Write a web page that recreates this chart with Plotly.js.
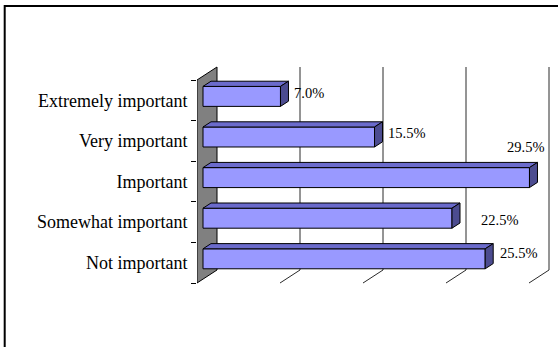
<!DOCTYPE html>
<html>
<head>
<meta charset="utf-8">
<script src="https://cdn.plot.ly/plotly-3.0.1.min.js"></script>
<style>
  html, body { margin: 0; padding: 0; background: #ffffff; }
  #chart { width: 558px; height: 347px; }
</style>
</head>
<body>
<div id="chart"></div>
<script>
// Survey answers, listed from the top row to the bottom row
const categories = ['Extremely important', 'Very important', 'Important', 'Somewhat important', 'Not important'];
const shares = [7.0, 15.5, 29.5, 22.5, 25.5];
const shareLabels = ['7.0%', '15.5%', '29.5%', '22.5%', '25.5%'];

// Value axis: gridlines every 7.5 points up to 30
const gridStep = 7.5;
const gridCount = 4;

// Pixel nudges for each value label [dx, dy]
const labelNudge = [[11.5, 3.5], [11.5, 4], [-24, 30.5], [27, -2], [13, 5.5]];

// ---- geometry of the oblique 3-D box ----
const W = 558, H = 347;
const originPx = [197, 283];          // front-bottom corner of the plot box
const pxPerUnitX = 83 / gridStep;     // pixels per percentage point
const pxPerUnitY = 40.6;              // pixels per category slot
const depthX = 20 / pxPerUnitX;       // depth offset of the back wall (data units)
const depthY = 13 / pxPerUnitY;
const nCat = categories.length;
const barFront = 0.3, barBack = 0.7;  // bar position inside the depth
const barHalf = 0.246;                // half bar thickness (category units)

const faceFront = '#9999ff', faceTop = '#6b6bcc', faceSide = '#4c4c90';
const serif = 'Liberation Serif, Times New Roman, serif';

const shapes = [];

// gray side wall
shapes.push({
  type: 'path', xref: 'x', yref: 'y', layer: 'below',
  path: `M 0 0 L 0 ${nCat} L ${depthX} ${nCat + depthY} L ${depthX} ${depthY} Z`,
  fillcolor: '#808080', line: { color: '#000', width: 1 }
});

// back wall gridlines and floor guide lines
for (let k = 1; k <= gridCount; k++) {
  shapes.push({
    type: 'line', xref: 'x', yref: 'y', layer: 'below',
    x0: depthX + k * gridStep, x1: depthX + k * gridStep, y0: depthY, y1: nCat + depthY,
    line: { color: '#2a2a2a', width: 1 }
  });
  shapes.push({
    type: 'line', xref: 'x', yref: 'y', layer: 'below',
    x0: k * gridStep, x1: depthX + k * gridStep, y0: 0, y1: depthY,
    line: { color: '#2a2a2a', width: 1 }
  });
}

// outer frame of the chart area
shapes.push({
  type: 'rect', xref: 'paper', yref: 'paper',
  x0: 4.7 / W, x1: 1.2, y0: -0.2, y1: 1 - 6 / H,
  line: { color: '#000', width: 2 }, fillcolor: 'rgba(0,0,0,0)', layer: 'above'
});

const traces = [];

// bar centres (front face), bottom category sits in slot 0
const centres = categories.map((c, i) => (nCat - 1 - i) + 0.5 + barFront * depthY);
const x0 = barFront * depthX;
const ddx = (barBack - barFront) * depthX;
const ddy = (barBack - barFront) * depthY;

// front faces as real horizontal bars
traces.push({
  type: 'bar', orientation: 'h',
  x: shares, y: centres, base: x0, width: 2 * barHalf,
  marker: { color: faceFront, line: { color: '#000', width: 1 } },
  hoverinfo: 'skip', showlegend: false
});

// top and side faces of each bar
const tx = [], ty = [], sx = [], sy = [];
shares.forEach((v, i) => {
  const yt = centres[i] + barHalf, yb = centres[i] - barHalf;
  tx.push(x0, x0 + v, x0 + v + ddx, x0 + ddx, x0, null);
  ty.push(yt, yt, yt + ddy, yt + ddy, yt, null);
  sx.push(x0 + v, x0 + v, x0 + v + ddx, x0 + v + ddx, x0 + v, null);
  sy.push(yb, yt, yt + ddy, yb + ddy, yb, null);
});
traces.push({
  type: 'scatter', mode: 'lines', fill: 'toself', fillcolor: faceTop,
  x: tx, y: ty, line: { color: '#000', width: 1 }, hoverinfo: 'skip', showlegend: false
});
traces.push({
  type: 'scatter', mode: 'lines', fill: 'toself', fillcolor: faceSide,
  x: sx, y: sy, line: { color: '#000', width: 1 }, hoverinfo: 'skip', showlegend: false
});

// value labels
const annotations = shares.map((v, i) => ({
  x: x0 + v, y: centres[i], xref: 'x', yref: 'y',
  text: shareLabels[i], showarrow: false,
  xanchor: 'left', yanchor: 'middle',
  xshift: labelNudge[i][0], yshift: labelNudge[i][1],
  font: { family: serif, size: 14.5, color: '#000' }
}));

const boundaryTicks = [];
for (let k = 0; k <= nCat; k++) boundaryTicks.push(k);
const slotCentres = categories.map((c, i) => (nCat - 1 - i) + 0.5);

const yRange = [-(H - originPx[1]) / pxPerUnitY, originPx[1] / pxPerUnitY];

// keep the second y axis populated so its labels render
traces.push({
  type: 'scatter', mode: 'markers', x: slotCentres.map(() => 0), y: slotCentres,
  yaxis: 'y2', marker: { opacity: 0 }, hoverinfo: 'skip', showlegend: false
});

const layout = {
  width: W, height: H,
  margin: { l: 0, r: 0, t: 0, b: 0, pad: 0 },
  paper_bgcolor: '#ffffff', plot_bgcolor: 'rgba(0,0,0,0)',
  showlegend: false, bargap: 0,
  xaxis: {
    domain: [originPx[0] / W, 1],
    range: [0, (W - originPx[0]) / pxPerUnitX],
    showgrid: false, zeroline: false, showline: false, showticklabels: false, ticks: ''
  },
  yaxis: {
    domain: [0, 1], range: yRange, anchor: 'x',
    showgrid: false, zeroline: false, showline: false,
    tickmode: 'array', tickvals: boundaryTicks, ticktext: boundaryTicks.map(() => ''),
    ticks: 'outside', ticklen: 5, tickwidth: 1, tickcolor: '#000'
  },
  yaxis2: {
    overlaying: 'y', anchor: 'x', side: 'left', range: yRange,
    showgrid: false, zeroline: false, showline: false,
    tickmode: 'array', tickvals: slotCentres, ticktext: categories,
    ticks: 'outside', ticklen: 5, tickcolor: 'rgba(0,0,0,0)',
    tickfont: { family: serif, size: 18, color: '#000' }
  },
  annotations: annotations,
  shapes: shapes
};

Plotly.newPlot('chart', traces, layout, { staticPlot: true, displayModeBar: false });
</script>
</body>
</html>
